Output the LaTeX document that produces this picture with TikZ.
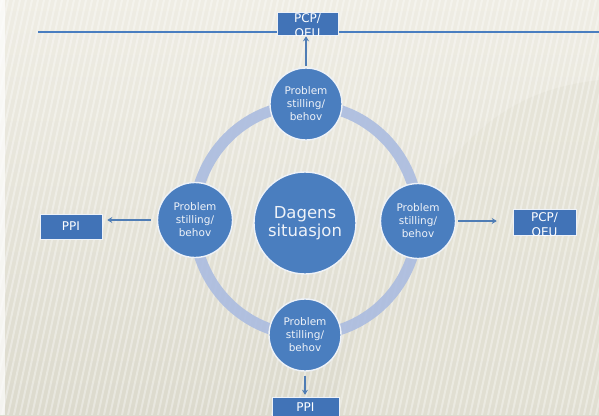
\documentclass[tikz,border=0pt]{standalone}
\usepackage{fontspec}
\setmainfont{DejaVu Sans}
\usetikzlibrary{calc,arrows.meta}
\definecolor{paper}{HTML}{E4E2D5}
\definecolor{paperlight}{HTML}{EFEDE4}
\definecolor{paperdark}{HTML}{DCDACD}
\definecolor{boxblue}{HTML}{4173B7}
\definecolor{discblue}{HTML}{4A7EBF}
\definecolor{ringblue}{HTML}{ABBCE0}
\definecolor{arrowblue}{HTML}{4F7DB5}
\definecolor{lineblue}{HTML}{4A7EC0}
\definecolor{softwhite}{HTML}{EEF2F8}
\tikzset{
  disc/.style={circle, fill=discblue, draw=softwhite, line width=1.4pt,
    inner sep=0pt, minimum size=#1, text=softwhite, align=center},
  disctext/.style={font=\fontsize{10.5}{13}\selectfont},
  bigtext/.style={font=\fontsize{16.5}{18.5}\selectfont},
  tag/.style={rectangle, fill=boxblue, draw=softwhite, line width=0.5pt,
    inner sep=0pt, minimum width=#1},
  tagtext/.style={text=white, align=center, inner sep=0pt,
    font=\fontsize{12}{15}\selectfont},
  link/.style={draw=arrowblue, line width=1.4pt,
    -{Stealth[length=5pt,width=6pt]}},
}
\begin{document}
\begin{tikzpicture}[x=1pt,y=-1pt]
  % page and backdrop
  \useasboundingbox (0,0) rectangle (599,415);
  \clip (0,0) rectangle (599,415);
  \shade[top color=paperlight, bottom color=paperdark] (0,0) rectangle (599,415);
  \fill[paper, opacity=0.6] (330,415) .. controls (420,120) and (520,90) .. (599,80) -- (599,415) -- cycle;
  \foreach \i in {-160,-154,...,600}
    \draw[white, opacity=0.35, line width=2pt] (\i,415) -- (\i+90,0);
  \fill[white, opacity=0.7] (0,0) rectangle (5,415);

  % header rule
  \coordinate (ruleL) at (38,32);
  \coordinate (ruleR) at (599,32);
  \draw[lineblue, line width=2pt] (ruleL) -- (ruleR);

  % ring behind the discs
  \draw[ringblue, line width=11pt, opacity=0.9] (306,220) ellipse [x radius=112, y radius=115];

  % discs
  \node[disc=102pt, bigtext] (c0) at (305,223) {Dagens\\situasjon};
  \node[disc=72pt, disctext] (ct) at (306,104) {Problem\\stilling/\\behov};
  \node[disc=75pt, disctext] (cl) at (195,220) {Problem\\stilling/\\behov};
  \node[disc=75pt, disctext] (cr) at (418,221) {Problem\\stilling/\\behov};
  \node[disc=72pt, disctext] (cb) at (305,335) {Problem\\stilling/\\behov};

  % outcome boxes
  \node[tag=61pt, minimum height=23pt] (bt) at (307.5,23.5) {};
  \node[tag=62pt, minimum height=25pt] (bl) at (71,226.5) {};
  \node[tag=63pt, minimum height=26pt] (br) at (544.5,222) {};
  \node[tag=67pt, minimum height=26pt] (bb) at (305.5,410) {};

  % box labels, cut off at the box edges
  \begin{scope}
    \clip (bt.south west) rectangle (bt.north east);
    \node[tagtext] (btl) at ($(bt.center)+(0,2)$) {PCP/\\OEU};
  \end{scope}
  \begin{scope}
    \clip (br.south west) rectangle (br.north east);
    \node[tagtext] (brl) at ($(br.center)+(0,2.5)$) {PCP/\\OEU};
  \end{scope}
  \node[tagtext] (bll) at (bl.center) {PPI};
  \begin{scope}
    \clip (bb.south west) rectangle (bb.north east);
    \node[tagtext] (bbl) at ($(bb.center)+(0,-3)$) {PPI};
  \end{scope}

  % connectors, kept straight
  \draw[link, shorten <=1pt, shorten >=1pt] (ct.north) -- (ct.north |- bt.south);
  \draw[link, shorten <=6pt, shorten >=5pt] (cl.west) -- (cl.west -| bl.east);
  \draw[link, shorten <=2pt, shorten >=16pt] (cr.east) -- (cr.east -| br.west);
  \draw[link, shorten <=4pt, shorten >=2pt] (cb.south) -- (cb.south |- bb.north);
\end{tikzpicture}
\end{document}
